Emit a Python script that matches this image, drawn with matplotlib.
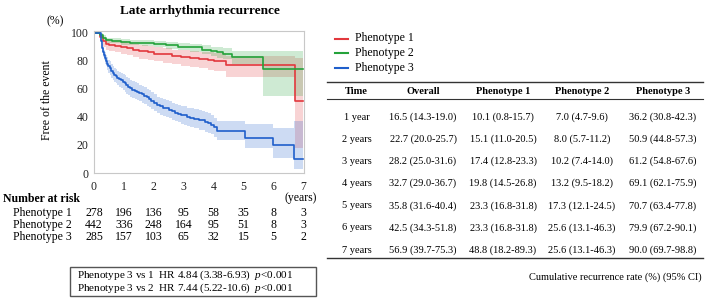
import matplotlib.pyplot as plt
import matplotlib.transforms as mtransforms

plt.rcParams['font.family'] = ['Liberation Serif', 'DejaVu Serif']
plt.rcParams['mathtext.fontset'] = 'custom'
plt.rcParams['mathtext.rm'] = 'Liberation Serif'
plt.rcParams['mathtext.it'] = 'Liberation Serif:italic'

# Kaplan-Meier style curves (free of the event, %)
p1_t = [0, 0.2, 0.3, 0.4, 0.5, 0.7, 0.9, 1.1, 1.3, 1.5, 1.8, 2.0, 2.3, 2.6, 2.9, 3.2, 3.5, 3.8, 4.0, 4.4, 6.72, 7.0]
p1_s = [100, 97, 94, 92, 91, 90.5, 90, 89, 88, 87, 86, 85, 84.5, 83.5, 82.6, 82, 81, 80.5, 80, 76.7, 51.2, 51.2]
p1_lo = [100, 94, 90, 88, 87, 86, 85, 84, 83, 81.5, 80.5, 79.5, 78.5, 77.5, 76.5, 75.5, 74.5, 73.5, 73, 68.5, 17.5, 17.5]
p1_hi = [100, 99, 97, 95.5, 95, 94.5, 94, 93, 92, 91.5, 90.5, 89.5, 89, 88, 87.5, 87, 86.5, 86, 85.5, 83.5, 82, 82]

p2_t = [0, 0.2, 0.3, 0.4, 0.6, 0.9, 1.2, 1.6, 2.0, 2.4, 2.8, 3.2, 3.6, 3.9, 4.1, 4.3, 4.6, 5.64, 7.0]
p2_s = [100, 98, 96, 94.5, 94, 93.5, 93, 92.5, 92, 91, 90, 89.5, 88, 87, 86, 85, 82.7, 74.4, 74.4]
p2_lo = [100, 96.5, 94.5, 93, 92.5, 91.5, 91, 90.5, 89.5, 88.5, 87.5, 86.5, 85, 83.5, 82, 81, 78, 55, 55]
p2_hi = [100, 99.5, 98, 96.5, 96, 95.5, 95, 94.5, 94, 93.5, 92.5, 92, 91, 90, 89.5, 89, 87, 87, 87]

p3_t = [0, 0.22, 0.26, 0.3, 0.33, 0.36, 0.4, 0.44, 0.48, 0.52, 0.57, 0.62, 0.67, 0.72, 0.78, 0.84, 0.9, 0.96,
        1.02, 1.08, 1.14, 1.2, 1.28, 1.36, 1.44, 1.52, 1.6, 1.68, 1.76, 1.84, 1.92, 2.0, 2.1, 2.2, 2.3, 2.4,
        2.5, 2.6, 2.7, 2.8, 2.9, 3.0, 3.1, 3.2, 3.35, 3.5, 3.6, 3.7, 3.8, 3.9, 4.0, 4.1, 5.05, 5.97, 6.7, 7.0]
p3_s = [100, 94, 89, 86, 84, 82, 80, 78, 76, 74.5, 73, 71.5, 70, 69, 68, 67, 66, 65,
        63.8, 62.5, 61.5, 60.5, 59.5, 58.5, 58, 57, 56, 55, 54, 53, 51.5, 50, 48.5, 47.5, 46.5, 46,
        45, 44, 43, 42, 41.5, 41, 40, 39.5, 38.8, 38, 37.5, 36.5, 35.5, 34.5, 32.5, 30, 25.3, 20.1, 10, 10]
p3_lo = [100, 92, 86.5, 83, 80.5, 78, 76, 73.5, 71.5, 69.5, 68, 66.5, 65, 64, 62.5, 61.5, 60.5, 59.5,
         58, 56.5, 55.5, 54.5, 53.5, 52.5, 52, 51, 50, 49, 48, 47, 45.5, 44, 42.5, 41.5, 40.5, 40,
         39, 38, 37, 36, 35, 34.5, 33.5, 33, 32, 31, 30.5, 29.5, 28.5, 27.5, 25.5, 23.5, 17.5, 11, 3, 3]
p3_hi = [100, 96.5, 92, 89.5, 88, 86, 84, 82.5, 80.5, 79.5, 78, 76.5, 75, 74, 73, 72, 71.5, 70.5,
         69.5, 68.5, 67.5, 66.5, 65.5, 64.5, 64, 63, 62, 61, 60, 59, 57.5, 56, 54.5, 53.5, 52.5, 52,
         51, 50, 49, 48.5, 48, 47.5, 46.5, 46, 45.5, 45, 44.5, 43.5, 42.5, 41.5, 39.5, 37, 35, 32, 37, 37]

groups = ['Phenotype 1', 'Phenotype 2', 'Phenotype 3']
colors = ['#e2383d', '#24a23a', '#1f5fcb']

# number at risk
risk_years = [0, 1, 2, 3, 4, 5, 6, 7]
risk_p1 = [278, 196, 136, 95, 58, 35, 8, 3]
risk_p2 = [442, 336, 248, 164, 95, 51, 8, 3]
risk_p3 = [285, 157, 103, 65, 32, 15, 5, 2]

# cumulative recurrence table
tbl_time = ['1 year', '2 years', '3 years', '4 years', '5 years', '6 years', '7 years']
tbl_overall = ['16.5 (14.3-19.0)', '22.7 (20.0-25.7)', '28.2 (25.0-31.6)', '32.7 (29.0-36.7)',
               '35.8 (31.6-40.4)', '42.5 (34.3-51.8)', '56.9 (39.7-75.3)']
tbl_p1 = ['10.1 (0.8-15.7)', '15.1 (11.0-20.5)', '17.4 (12.8-23.3)', '19.8 (14.5-26.8)',
          '23.3 (16.8-31.8)', '23.3 (16.8-31.8)', '48.8 (18.2-89.3)']
tbl_p2 = ['7.0 (4.7-9.6)', '8.0 (5.7-11.2)', '10.2 (7.4-14.0)', '13.2 (9.5-18.2)',
          '17.3 (12.1-24.5)', '25.6 (13.1-46.3)', '25.6 (13.1-46.3)']
tbl_p3 = ['36.2 (30.8-42.3)', '50.9 (44.8-57.3)', '61.2 (54.8-67.6)', '69.1 (62.1-75.9)',
          '70.7 (63.4-77.8)', '79.9 (67.2-90.1)', '90.0 (69.7-98.8)']
tbl_header = ['Time', 'Overall', 'Phenotype 1', 'Phenotype 2', 'Phenotype 3']

W, H = 709, 299
fig = plt.figure(figsize=(W / 100, H / 100), dpi=100)

# overlay in pixel coordinates for text/table layout
ov = fig.add_axes([0, 0, 1, 1])
ov.set_xlim(0, W)
ov.set_ylim(H, 0)
ov.axis('off')

ax = fig.add_axes([94 / W, (H - 173) / H, 210 / W, 142 / H])
curves = [(p1_t, p1_s, p1_lo, p1_hi), (p2_t, p2_s, p2_lo, p2_hi), (p3_t, p3_s, p3_lo, p3_hi)]
for (t, s, lo, hi), c in zip(curves, colors):
    ax.fill_between(t, lo, hi, step='post', color=c, alpha=0.22, lw=0)
    ax.step(t, s, where='post', color=c, lw=1.2)

ax.set_xlim(0, 7.02)
ax.set_ylim(0, 101.2)
ax.set_xticks(risk_years)
ax.set_yticks([0, 20, 40, 60, 80, 100])
ax.tick_params(length=0, labelsize=8.5, colors='#222222')
ax.tick_params(axis='x', pad=6)
ax.tick_params(axis='y', pad=4)
for sp in ax.spines.values():
    sp.set_color('#c8c8c8')
    sp.set_linewidth(0.8)

ov.text(200, 11, 'Late arrhythmia recurrence', ha='center', va='center', fontsize=9.5, fontweight='bold')
ov.text(55, 21, '(%)', ha='center', va='center', fontsize=8.5)
ov.text(47, 100, 'Free of the event', ha='center', va='center', rotation=90, fontsize=8.5)
ov.text(301, 198.5, '(years)', ha='center', va='center', fontsize=8.5)

# number at risk
ov.text(3, 198.5, 'Number at risk', ha='left', va='center', fontsize=8.5, fontweight='bold')
blend = mtransforms.blended_transform_factory(ax.transData, ov.transData)
for i, (name, vals) in enumerate(zip(groups, [risk_p1, risk_p2, risk_p3])):
    y = 213 + i * 12
    ov.text(13, y, name, ha='left', va='center', fontsize=8.5)
    for yr, v in zip(risk_years, vals):
        ov.text(yr, y, str(v), ha='center', va='center', fontsize=8.5, transform=blend)

# hazard ratio box
ov.add_patch(plt.Rectangle((70, 267), 246, 29, fill=False, ec='#555555', lw=1))
ov.text(77, 275.5, 'Phenotype 3 vs 1  HR 4.84 (3.38-6.93)  $\\it{p}$<0.001', ha='left', va='center', fontsize=8)
ov.text(77, 288, 'Phenotype 3 vs 2  HR 7.44 (5.22-10.6)  $\\it{p}$<0.001', ha='left', va='center', fontsize=8)

# legend
for i, (name, c) in enumerate(zip(groups, colors)):
    y = 38.5 + i * 14.5
    ov.plot([335, 348], [y, y], color=c, lw=1.5)
    ov.text(355, y, name, ha='left', va='center', fontsize=8.5)

# table
ov.plot([327, 703], [81.5, 81.5], color='#333333', lw=1)
ov.plot([327, 703], [99, 99], color='#333333', lw=0.8)
ov.plot([327, 703], [257.5, 257.5], color='#333333', lw=1)
col_x = [356.5, 423, 503, 582, 663]
for x, h in zip(col_x, tbl_header):
    ov.text(x, 91, h, ha='center', va='center', fontsize=7.5, fontweight='bold')
for r in range(len(tbl_time)):
    y = 117 + r * 22.2
    row = [tbl_time[r], tbl_overall[r], tbl_p1[r], tbl_p2[r], tbl_p3[r]]
    for x, v in zip(col_x, row):
        ov.text(x, y, v, ha='center', va='center', fontsize=7.5)
ov.text(702, 277, 'Cumulative recurrence rate (%) (95% CI)', ha='right', va='center', fontsize=7.5)

fig.savefig('out.png', dpi=100)
